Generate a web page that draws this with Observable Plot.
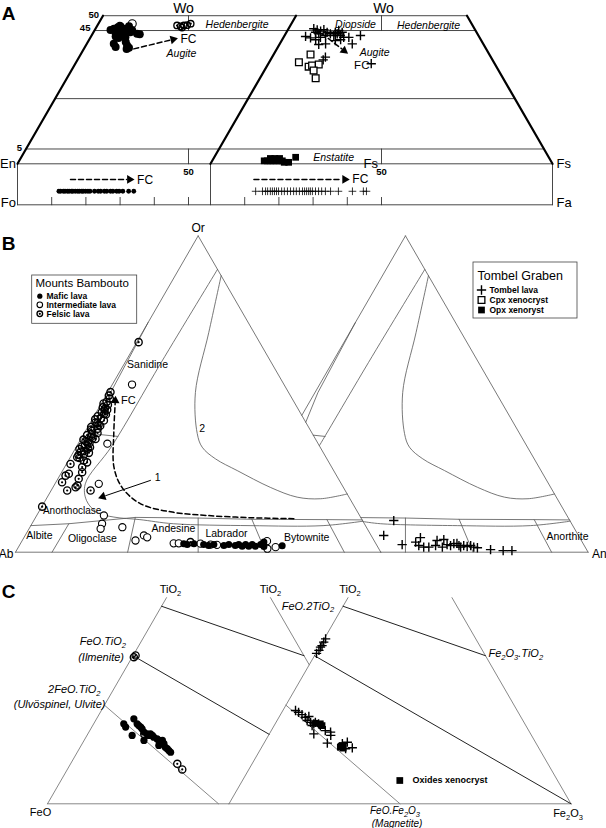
<!DOCTYPE html>
<html>
<head>
<meta charset="utf-8">
<script src="https://cdn.jsdelivr.net/npm/d3@7"></script>
<script src="https://cdn.jsdelivr.net/npm/@observablehq/plot@0.6"></script>
<style>
  html, body { margin: 0; padding: 0; background: #fff; }
  #chart svg { display: block; }
</style>
</head>
<body>
<div id="chart"></div>
<script>
// ======================= DATA =======================
// Panel A — pyroxene compositions [Wo, Fs] mol % (En = 100 − Wo − Fs)
const pyxBamboutoMafic = [[45.2,4.6],[45.6,5.4],[44.4,6.4],[46.1,6.3],[46.4,6.9],[43.9,8.0],[44.8,8.2],[45.6,8.3],[43.9,9.6],[45.0,9.6],[46.4,9.4],[44.4,10.8],[45.2,10.9],[43.0,7.2],[42.5,8.3],[43.3,8.7],[42.7,10.2],[43.9,13.0],[43.7,13.9],[40.5,7.9],[39.4,9.0],[41.1,11.1],[39.9,12.1],[39.2,13.0],[38.8,12.5]];
const pyxBamboutoInter = [[46.4,6.7],[47.3,9.9]];
const pyxBamboutoFelsic = [[46.7,23.3],[46.4,24.5],[46.7,25.3],[46.8,26.2],[47.3,27.0],[46.0,25.1]];
const pyxTombelLava = [[45.6,7.4],[45.2,8.6],[44.8,9.8],[45.3,10.5],[44.4,8.5],[43.9,9.7],[43.0,6.3],[42.5,8.0],[41.9,9.8],[42.7,10.8],[43.3,12.0],[44.4,11.9],[43.9,13.1],[43.3,14.4],[44.4,14.3],[43.9,15.1],[45.0,15.0],[43.3,16.3],[44.4,16.3],[42.7,17.6],[42.7,19.1],[40.5,21.2],[43.3,22.2],[40.5,13.4],[40.3,11.5],[41.6,15.7],[41.9,17.1],[36.0,15.6],[35.1,15.4],[33.8,30.1]];
const pyxCpxXenocryst = [[36.9,10.8],[34.3,8.7],[32.8,12.3],[33.2,13.1],[33.5,14.9],[31.5,14.4],[28.9,16.3]];
const pyxOpxXenocryst = [[1.0,15.2],[1.0,16.1],[1.8,16.6],[1.0,17.0],[1.8,17.9],[1.0,17.8],[1.0,18.7],[1.0,19.6],[1.8,19.3],[1.0,20.5],[0.5,21.3],[0.5,22.6],[2.2,23.8]];
// Panel A — olivine Fa mol %
const olBamboutoFa = [12.1,12.6,13.4,13.9,14.6,15.1,15.8,16.2,16.9,17.6,18.1,18.8,19.2,19.9,20.6,21.2,22.5,23.6,24.3,25.4,26.1,27.2,27.9,29.0,29.7,30.8,32.5,34.0];
const olTombelFa = [13.2,15.2,16.1,16.7,17.5,18.1,18.7,19.3,19.9,20.8,21.6,22.5,23.4,24.3,25.1,26.0,26.9,27.5,28.1,28.7,29.2,29.8,30.7,31.6,32.5,33.6,35.1,37.4,41.5,44.7,45.6];
// Panel A — fractional crystallisation (FC) trends
const pyxFcBambouto = [[38.8,14.6],[42.2,25.1]];
const pyxFcTombel = [[45.6,7.9],[37.7,20.8]];
const olFcBambouto = [15.5,33.5];
const olFcTombel = [12.7,40.0];
// Panel A — guide lines and labels
const pyxWoLines = [50,45,22,5];
const pyxWoTickLabels = [{wo:50,text:"50"},{wo:45,text:"45"},{wo:5,text:"5"}];
const olTicksFa = [10,20,30,40,50];
const pyxFieldLabels = [
  {diagram:"Bambouto", text:"Hedenbergite", wo:47.0, fs:40.7},
  {diagram:"Tombel", text:"Diopside", wo:47.0, fs:18.9},
  {diagram:"Tombel", text:"Hedenbergite", wo:46.7, fs:40.4},
  {diagram:"Bambouto", text:"Augite", wo:37.1, fs:29.4},
  {diagram:"Tombel", text:"Augite", wo:37.4, fs:29.3},
  {diagram:"Tombel", text:"Enstatite", wo:2.0, fs:35.0}
];

// Panel B — feldspar compositions [An, Or] mol % (Ab = 100 − An − Or)
const fspBamboutoFelsic = [[0.5,66.4],[0.7,50.6],[0.8,49.5],[1.5,48.6],[1.2,47.5],[0.6,47.0],[2.0,46.6],[1.0,45.8],[1.8,45.3],[2.6,45.0],[1.5,44.2],[2.4,43.8],[3.0,43.5],[1.0,43.0],[2.2,42.3],[0.8,42.0],[3.4,41.6],[1.4,41.0],[2.0,40.8],[2.6,40.3],[3.2,40.0],[0.9,39.6],[3.0,39.0],[1.3,38.8],[1.8,38.3],[3.6,37.7],[2.2,37.3],[1.1,37.0],[2.5,36.4],[3.1,36.0],[4.0,35.8],[0.8,35.6],[1.6,35.1],[2.4,34.9],[3.0,34.5],[2.1,33.8],[1.5,33.4],[3.8,33.2],[3.5,32.8],[1.2,32.6],[2.8,32.0],[2.0,31.8],[4.4,31.4],[3.3,30.9],[1.9,30.7],[2.6,29.8],[4.2,29.0],[5.4,28.4],[4.8,26.9],[1.9,30.0],[1.1,27.9],[5.6,25.3],[5.7,23.2],[2.2,24.8],[1.6,24.2],[1.7,22.1],[6.4,21.1],[6.2,20.5],[4.4,19.5],[10.8,19.5],[0.1,14.4],[46.3,3.2]];
const fspBamboutoInter = [[5.4,53.0],[8.0,34.3],[12.0,21.6],[18.4,11.6],[19.2,9.0],[19.6,7.4],[25.3,7.9],[31.0,3.7],[32.5,5.3],[33.7,4.7],[41.9,2.8],[43.3,2.8],[49.3,2.7],[52.2,2.4],[54.0,2.3],[67.1,3.5],[68.4,1.1],[70.4,1.6]];
const fspBamboutoMafic = [[44.7,2.7],[45.8,2.4],[47.5,2.7],[50.3,2.4],[51.8,2.1],[53.1,2.4],[56.0,2.1],[57.2,2.4],[59.1,2.1],[59.9,2.4],[61.1,1.9],[61.8,2.4],[62.9,1.9],[63.6,2.4],[64.7,1.9],[65.9,2.4],[66.4,3.2],[67.1,1.8],[72.0,2.0]];
const fspTombelLava = [[41.8,10.0],[41.4,5.3],[47.9,2.4],[51.2,3.2],[51.8,4.6],[52.6,2.1],[54.2,1.6],[55.6,1.6],[57.2,2.1],[56.8,3.7],[58.5,4.0],[59.3,1.6],[60.2,2.4],[61.3,2.1],[61.9,2.7],[62.7,2.8],[63.6,2.1],[64.3,1.6],[64.9,2.1],[66.0,1.8],[66.8,2.1],[67.9,1.6],[69.0,1.4],[72.9,0.8],[76.5,0.5],[78.9,0.5]];
// Panel B — FC trend and classification boundaries [An, Or]
const fspFcPath = [[70.9,10.6],[58.9,10.9],[46.7,11.6],[37.0,12.6],[26.6,15.3],[18.9,20.5],[13.5,26.9],[8.2,37.4],[3.0,48.7]];
const fspArrow1 = [[25.6,22.7],[14.6,17.3]];
const fspOutline = [[[0,0],[0,100]],[[0,100],[100,0]],[[0,0],[100,0]]];
const fspPlagDividers = [[[10,0],[10.1,9.0]],[[30.7,0],[27.3,11.0]],[[50,0],[44.6,10.8]],[[68.5,0],[59.5,10.4]],[[90,0],[80.1,10.3]]];
const fspPlagTop = [[0,8.4],[10.1,9.0],[27.3,11.0],[44.6,10.8],[59.5,10.4],[80.1,10.3],[89.8,10.2]];
const fspLineE = [[0,72.6],[0.8,50.5],[2.7,37.4]];
const fspSanAnorth = [[2.7,37.4],[9.7,36.6]];
const fspCurve1 = [[10.6,89.4],[9.9,60.0],[9.6,33.7],[8.3,21.6],[11.3,16.3],[16.0,12.6],[21.4,11.1],[28.9,10.3],[38.7,9.0],[60.0,8.4],[80.0,8.4],[90.2,9.8]];
const fspCurve2 = [[12.6,87.4],[18.2,69.4],[24.0,50.5],[31.0,37.5],[34.5,33.2],[40.0,29.5],[47.8,25.8],[59.5,20.5],[68.4,17.4],[75.1,16.9],[81.6,18.4]];
const fspFieldLabels = [
  {diagram:"Bambouto", text:"Sanidine", an:6.5, or:59.3},
  {diagram:"Bambouto", text:"Anorthoclase", an:8.9, or:13.2},
  {diagram:"Bambouto", text:"Albite", an:3.9, or:5.3},
  {diagram:"Bambouto", text:"Oligoclase", an:18.9, or:4.3},
  {diagram:"Bambouto", text:"Andesine", an:39.5, or:7.5},
  {diagram:"Bambouto", text:"Labrador", an:54.8, or:5.9},
  {diagram:"Bambouto", text:"Bytownite", an:77.4, or:4.6},
  {diagram:"Tombel", text:"Anorthite", an:91.9, or:4.9},
  {diagram:"Bambouto", text:"1", an:27.1, or:23.6},
  {diagram:"Bambouto", text:"2", an:31.5, or:39.2}
];

// Panel C — Fe–Ti oxide compositions [TiO2, Fe2O3] mol % (FeO = rest)
const oxBamboutoMafic = [[27.0,8.8],[25.9,9.9],[23.1,13.2],[28.7,10.9],[27.0,12.7],[26.4,13.5],[25.9,14.3],[25.3,15.0],[24.2,16.1],[21.4,17.5],[23.6,17.3],[23.1,18.1],[23.6,18.3],[23.1,19.1],[22.5,19.8],[21.9,21.1],[21.4,21.9],[19.7,22.7],[20.8,22.6],[21.4,22.9],[20.3,23.9],[19.1,24.9],[18.6,25.7],[18.0,26.5],[17.4,27.3]];
const oxBamboutoFelsic = [[23.6,16.5],[13.5,31.2],[11.6,33.6],[49.5,0.5],[50.1,0.7]];
const oxTombelLava = [[55.7,0.4],[54.6,0.4],[53.4,0.5],[52.9,0.3],[51.8,0.4],[50.8,0.2],[31.5,3.7],[30.9,4.9],[30.1,6.3],[29.2,7.7],[29.5,8.6],[28.1,8.8],[27.5,10.1],[26.4,11.1],[27.0,11.3],[27.5,11.5],[27.0,12.7],[26.4,13.5],[23.6,13.0],[24.7,15.8],[24.2,17.6],[23.1,18.2],[20.5,18.5],[20.3,23.0],[20.8,24.2],[18.9,26.6],[18.6,24.8]];
const oxXenocryst = [[27.2,11.7],[27.0,13.2],[26.4,14.0],[19.7,23.2],[19.1,23.0],[18.8,24.0]];
// Panel C — tie lines [TiO2, Fe2O3]
const oxSides = [[[0,0],[69.6,0]],[[0,100],[69.6,30.4]],[[0,0],[0,100]]];
const oxUspMt = [[33.3,0],[0,50]];
const oxIlmHem = [[50,0],[0,100]];
const oxFtPsb = [[66.7,0],[50,50]];

// Legends
const legendBambouto = {title:"Mounts Bambouto", items:["Mafic lava","Intermediate lava","Felsic lava"]};
const legendTombel = {title:"Tombel Graben", items:["Tombel lava","Cpx xenocryst","Opx xenoryst"]};
const legendOxide = "Oxides xenocryst";

// ======================= LAYOUT =======================
const SQ3 = Math.sqrt(3) / 2;
const FONT = "'Liberation Sans', Arial, Helvetica, sans-serif";
const A1 = {x0:17, y0:163.3, side:342}, A2 = {x0:210, y0:163.3, side:342};
const OLV = {top:163.3, bottom:204.3};
const B1 = {x0:15, y0:551.7, side:365.3}, B2 = {x0:222.3, y0:551.7, side:365.3};
const C1 = {x0:47, y0:803.3, side:342}, C2 = {x0:228.5, y0:803.3, side:342};

const tern = (d, top, right) => [d.x0 + d.side * (right + top / 2) / 100, d.y0 - d.side * SQ3 * top / 100];
const pyx = (d, p) => tern(d, p[0], p[1]);
const fsp = (d, p) => tern(d, p[1], p[0]);
const ox = (d, p) => tern(d, p[0], p[1]);
const olv = (d, fa, f) => [d.x0 + d.side * fa / 100, OLV.top + f * (OLV.bottom - OLV.top)];

const xOnLine = (a, b, y) => a[0] + (b[0] - a[0]) * (y - a[1]) / (b[1] - a[1]);
const orB1 = fsp(B1, [0, 100]), anB1 = fsp(B1, [100, 0]);
const keepB2 = p => p[0] - xOnLine(orB1, anB1, p[1]);
const feoC2 = ox(C2, [0, 0]), tiC2 = ox(C2, [100, 0]);
const keepC1 = p => xOnLine(feoC2, tiC2, p[1]) - p[0];

function clipLine(pts, s) {
  const out = []; let cur = [];
  for (let i = 0; i < pts.length; i++) {
    const p = pts[i], sp = s(p);
    if (i > 0) {
      const q = pts[i - 1], sq = s(q);
      if ((sq >= 0) !== (sp >= 0)) {
        const t = sq / (sq - sp);
        const m = [q[0] + t * (p[0] - q[0]), q[1] + t * (p[1] - q[1])];
        if (sq >= 0) { cur.push(m); out.push(cur); cur = []; } else { cur = [m]; }
      }
    }
    if (sp >= 0) cur.push(p);
  }
  if (cur.length > 1) out.push(cur);
  return out.filter(c => c.length > 1);
}

let segId = 0;
const lineGroups = {};
function addLine(group, pts) {
  const id = segId++;
  (lineGroups[group] = lineGroups[group] || []).push(...pts.map(p => ({x:p[0], y:p[1], id})));
}
const heads = [];
const HEAD_R = 3.2;
const headTip = Math.sqrt(Math.PI * HEAD_R * HEAD_R / (3 * Math.sqrt(3))) * 2;
function addArrow(group, pts) {
  const n = pts.length, [x1, y1] = pts[n - 1], [x0, y0] = pts[n - 2];
  const len = Math.hypot(x1 - x0, y1 - y0), ux = (x1 - x0) / len, uy = (y1 - y0) / len;
  addLine(group, pts.slice(0, -1).concat([[x1 - ux * headTip * 1.1, y1 - uy * headTip * 1.1]]));
  heads.push({x:x1 - ux * headTip * 0.5, y:y1 - uy * headTip * 0.5, angle:Math.atan2(ux, -uy) * 180 / Math.PI});
}
const texts = [];
function T(text, p, o = {}) {
  texts.push({text, x:p[0] + (o.dx || 0), y:p[1] + (o.dy || 0), size:o.size || 11,
    anchor:o.anchor || "middle", style:o.italic ? "italic" : "normal", weight:o.bold ? "bold" : "normal"});
}
const diag = {A:{Bambouto:A1, Tombel:A2}, B:{Bambouto:B1, Tombel:B2}};

// ---------- Panel A geometry ----------
pyxWoLines.forEach(w => addLine("aGrid", [pyx(A1, [w, 0]), pyx(A2, [w, 100 - w])]));
addLine("aGrid", [pyx(A1, [0, 0]), pyx(A2, [0, 100])]);
addLine("aGrid", [olv(A1, 0, 1), olv(A2, 100, 1)]);
[[A1, 0], [A2, 0], [A2, 100]].forEach(([d, fa]) => addLine("aGrid", [olv(d, fa, 0), olv(d, fa, 1)]));
[A1, A2].forEach(d => {
  olTicksFa.forEach(fa => addLine("aGrid", [olv(d, fa, 0.82), olv(d, fa, 1)]));
  addLine("aGrid", [pyx(d, [50, 25]), pyx(d, [45, 27.5])]);
  addLine("aGrid", [pyx(d, [5, 47.5]), pyx(d, [0, 50])]);
});
addLine("aThick", [pyx(A1, [0, 0]), pyx(A1, [50, 0])]);
addLine("aThick", [pyx(A2, [0, 0]), pyx(A2, [50, 0])]);
addLine("aThick", [pyx(A2, [0, 100]), pyx(A2, [50, 50])]);
addArrow("dash", pyxFcBambouto.map(p => pyx(A1, p)));
addArrow("dash", pyxFcTombel.map(p => pyx(A2, p)));
addArrow("dash", olFcBambouto.map(fa => olv(A1, fa, 0.38)));
addArrow("dash", olFcTombel.map(fa => olv(A2, fa, 0.38)));

// ---------- Panel B geometry ----------
function drawFsp(d, clip) {
  const add = (pts, group) => {
    const px = pts.map(p => fsp(d, p));
    (clip ? clipLine(px, clip) : [px]).forEach(s => addLine(group, s));
  };
  fspOutline.forEach(l => add(l, "bThin"));
  fspPlagDividers.forEach(l => add(l, "bThin"));
  add(fspPlagTop, "bThin");
  add(fspLineE, "bThin");
  add(fspSanAnorth, "bThin");
  add(fspCurve1, "bCurve");
  add(fspCurve2, "bCurve");
}
drawFsp(B1, null);
drawFsp(B2, keepB2);
addArrow("dash", fspFcPath.map(p => fsp(B1, p)));
addArrow("solid", fspArrow1.map(p => fsp(B1, p)));

// ---------- Panel C geometry ----------
function drawOx(d, clip) {
  const add = (pts, group) => {
    const px = pts.map(p => ox(d, p));
    (clip ? clipLine(px, clip) : [px]).forEach(s => addLine(group, s));
  };
  oxSides.forEach(l => add(l, "cSide"));
  add(oxUspMt, "cSide");
  add(oxIlmHem, "cTie");
  add(oxFtPsb, "cTie");
}
drawOx(C1, keepC1);
drawOx(C2, null);

// ---------- Labels ----------
T("A", [8, 13], {size:19, bold:true});
T("B", [8, 243], {size:19, bold:true});
T("C", [8, 591], {size:19, bold:true});
// A
T("Wo", pyx(A1, [50, 25]), {dx:-5, dy:-7, size:14});
T("Wo", pyx(A2, [50, 25]), {dx:2, dy:-7, size:14});
pyxWoTickLabels.forEach(t => T(t.text, pyx(A1, [t.wo, 0]), {dx:-4, dy:t.wo === 45 ? -2.5 : -1, size:9.5, bold:true, anchor:"end"}));
T("En", pyx(A1, [0, 0]), {dx:-1.5, anchor:"end", size:13});
T("Fo", olv(A1, 0, 1), {dx:-1.5, dy:-2, anchor:"end", size:13});
T("50", pyx(A1, [0, 50]), {dy:8, size:9.5, bold:true});
T("Fs", pyx(A1, [0, 100]), {dx:4, anchor:"start", size:13});
T("50", pyx(A2, [0, 50]), {dy:8, size:9.5, bold:true});
T("Fs", pyx(A2, [0, 100]), {dx:4, anchor:"start", size:13});
T("Fa", olv(A2, 100, 1), {dx:4, dy:-2, anchor:"start", size:13});
pyxFieldLabels.forEach(l => T(l.text, pyx(diag.A[l.diagram], [l.wo, l.fs]), {italic:true, size:10.5}));
T("FC", pyx(A1, pyxFcBambouto[1]), {dx:5, anchor:"start", size:12});
T("FC", pyx(A2, pyxFcTombel[1]), {dx:8, dy:13, anchor:"start", size:11.5});
T("FC", olv(A1, olFcBambouto[1], 0.38), {dx:5, dy:1, anchor:"start", size:12});
T("FC", olv(A2, olFcTombel[1], 0.38), {dx:5, anchor:"start", size:12});
// B
T("Or", fsp(B1, [0, 100]), {dy:-8, size:12});
T("Ab", fsp(B1, [0, 0]), {dx:-2, dy:2, anchor:"end", size:12});
T("An", fsp(B2, [100, 0]), {dx:4, dy:2, anchor:"start", size:12});
fspFieldLabels.forEach(l => T(l.text, fsp(diag.B[l.diagram], [l.an, l.or]), {size:l.text === "Anorthoclase" ? 10 : 10.5}));
T("FC", fsp(B1, fspFcPath[fspFcPath.length - 1]), {dx:5.5, dy:2, anchor:"start", size:11});
// C
T("TiO_2", ox(C1, [69.6, 0]), {dx:4, dy:-8, size:11});
T("TiO_2", ox(C1, [69.6, 30.4]), {dx:0, dy:-8, size:11});
T("TiO_2", ox(C2, [69.6, 0]), {dx:2, dy:-8, size:11});
T("FeO.TiO_2", ox(C1, [50, 0]), {dx:-7, dy:-14, anchor:"end", italic:true, size:11});
T("(Ilmenite)", ox(C1, [50, 0]), {dx:-9, dy:2, anchor:"end", italic:true, size:11});
T("2FeO.TiO_2", ox(C1, [33.3, 0]), {dx:-4, dy:-15.5, anchor:"end", italic:true, size:11});
T("(Ulvöspinel, Ulvite)", ox(C1, [33.3, 0]), {dx:1, dy:-0.5, anchor:"end", italic:true, size:11});
T("FeO", ox(C1, [0, 0]), {dx:-7, dy:9, size:11});
T("FeO.2TiO_2", ox(C2, [66.7, 0]), {dx:-9, dy:0, anchor:"end", italic:true, size:11});
T("Fe_2O_3.TiO_2", ox(C2, [50, 50]), {dx:3, dy:-2, anchor:"start", italic:true, size:11});
T("FeO.Fe_2O_3", ox(C2, [0, 50]), {dx:-5, dy:7, italic:true, size:10});
T("(Magnetite)", ox(C2, [0, 50]), {dx:-3, dy:19.5, italic:true, size:10});
T("Fe_2O_3", ox(C2, [0, 100]), {dx:-3, dy:10, size:11});

// Legends (layout)
const legendBoxes = [{x1:31.7, x2:136.7, y1:275, y2:323.3}, {x1:473, x2:577, y1:262, y2:318}];
T(legendBambouto.title, [35, 282.5], {anchor:"start", size:11.5});
const lbY = [295.7, 304.3, 313.3];
legendBambouto.items.forEach((t, i) => T(t, [46, lbY[i]], {anchor:"start", size:8.5, bold:true}));
T(legendTombel.title, [477, 275], {anchor:"start", size:12.5});
const ltY = [289.5, 299.5, 309.5];
legendTombel.items.forEach((t, i) => T(t, [489, ltY[i]], {anchor:"start", size:8.5, bold:true}));
T(legendOxide, [412, 780], {anchor:"start", size:9, bold:true});

// ---------- point rows ----------
const rows = (arr, f) => arr.map(p => { const [x, y] = f(p); return {x, y}; });
const filledCircles = [
  ...rows(pyxBamboutoMafic, p => pyx(A1, p)).map(d => ({...d, r:4})),
  ...rows(fspBamboutoMafic, p => fsp(B1, p)).map(d => ({...d, r:3.5})),
  ...rows(oxBamboutoMafic, p => ox(C1, p)).map(d => ({...d, r:3.6})),
  ...olBamboutoFa.map(fa => { const [x, y] = olv(A1, fa, 0.67); return {x, y, r:2.4}; }),
  {x:39.3, y:lbY[0], r:2.6}
];
const openCircles = [
  ...rows(pyxBamboutoInter, p => pyx(A1, p)).map(d => ({...d, r:4})),
  ...rows(fspBamboutoInter, p => fsp(B1, p)).map(d => ({...d, r:3.6})),
  {x:39.3, y:lbY[1], r:2.8}
];
const dottedCircles = [
  ...rows(pyxBamboutoFelsic, p => pyx(A1, p)).map(d => ({...d, r:3.2})),
  ...rows(fspBamboutoFelsic, p => fsp(B1, p)).map(d => ({...d, r:3.6})),
  ...rows(oxBamboutoFelsic, p => ox(C1, p)).map(d => ({...d, r:3.6})),
  {x:39.3, y:lbY[2], r:2.8}
];
const plusBig = [
  ...rows(pyxTombelLava, p => pyx(A2, p)),
  ...rows(fspTombelLava, p => fsp(B2, p)),
  ...rows(oxTombelLava, p => ox(C2, p)),
  {x:481, y:ltY[0]}
];
const plusSmall = olTombelFa.map(fa => { const [x, y] = olv(A2, fa, 0.67); return {x, y}; });
const openSquares = [...rows(pyxCpxXenocryst, p => pyx(A2, p)), {x:481, y:ltY[1]}];
const filledSquares = [
  ...rows(pyxOpxXenocryst, p => pyx(A2, p)),
  ...rows(oxXenocryst, p => ox(C2, p)),
  {x:481, y:ltY[2]}, {x:399.3, y:780}
];

// ======================= MARKS =======================
const lineStyles = {
  aGrid:{stroke:"#333", strokeWidth:0.9},
  aThick:{stroke:"#000", strokeWidth:2.2},
  bThin:{stroke:"#555", strokeWidth:0.8},
  bCurve:{stroke:"#555", strokeWidth:0.8, curve:"catmull-rom"},
  cSide:{stroke:"#7a7a7a", strokeWidth:0.9},
  cTie:{stroke:"#222", strokeWidth:1},
  dash:{stroke:"#000", strokeWidth:1.5, strokeDasharray:"5,3", curve:"catmull-rom"},
  solid:{stroke:"#000", strokeWidth:1}
};
const marks = [];
for (const [k, st] of Object.entries(lineStyles)) {
  if (lineGroups[k]) marks.push(Plot.line(lineGroups[k], {x:"x", y:"y", z:"id", ...st}));
}
marks.push(Plot.rect(legendBoxes, {x1:"x1", x2:"x2", y1:"y1", y2:"y2", fill:"white", stroke:"#444", strokeWidth:0.8}));
const byR = (data, opts) => d3.groups(data, d => d.r).forEach(([r, g]) => marks.push(Plot.dot(g, {x:"x", y:"y", r, ...opts})));
byR(openCircles, {fill:"white", stroke:"black", strokeWidth:1.1});
byR(dottedCircles, {fill:"none", stroke:"black", strokeWidth:1.35});
marks.push(Plot.dot(dottedCircles, {x:"x", y:"y", r:1.1, fill:"black"}));
byR(filledCircles, {fill:"black"});
marks.push(Plot.dot(openSquares, {x:"x", y:"y", r:3.8, symbol:"square", fill:"white", stroke:"black", strokeWidth:1.3}));
marks.push(Plot.dot(filledSquares, {x:"x", y:"y", r:3.8, symbol:"square", fill:"black"}));
marks.push(Plot.dot(plusBig, {x:"x", y:"y", r:3.1, symbol:"plus", stroke:"black", strokeWidth:1.4}));
marks.push(Plot.dot(plusSmall, {x:"x", y:"y", r:2.6, symbol:"plus", stroke:"black", strokeWidth:0.8}));
marks.push(Plot.dot(heads, {x:"x", y:"y", r:HEAD_R, symbol:"triangle", fill:"black", rotate:"angle"}));
for (const [key, g] of d3.groups(texts, d => [d.size, d.anchor, d.style, d.weight].join("|"))) {
  const [size, anchor, style, weight] = key.split("|");
  marks.push(Plot.text(g, {x:"x", y:"y", text:"text", fontSize:+size, textAnchor:anchor,
    fontStyle:style, fontWeight:weight, fontFamily:FONT, fill:"black"}));
}

const svg = Plot.plot({
  width:606, height:828, margin:0,
  x:{domain:[0, 606], range:[0, 606], axis:null},
  y:{domain:[0, 828], range:[0, 828], axis:null},
  style:{fontFamily:FONT, background:"white"},
  marks
});

// chemical-formula subscripts: "_2" → subscript 2
d3.select(svg).selectAll("text").each(function() {
  const s = this.textContent;
  if (!s.includes("_")) return;
  const parts = s.split(/(_\d)/).filter(Boolean);
  this.textContent = "";
  let shifted = false;
  for (const part of parts) {
    const ts = document.createElementNS("http://www.w3.org/2000/svg", "tspan");
    if (part[0] === "_") {
      ts.textContent = part.slice(1); ts.setAttribute("dy", "2.5"); ts.setAttribute("font-size", "7.5"); shifted = true;
    } else {
      ts.textContent = part; if (shifted) { ts.setAttribute("dy", "-2.5"); shifted = false; }
    }
    this.appendChild(ts);
  }
});
document.getElementById("chart").appendChild(svg);
</script>
</body>
</html>
